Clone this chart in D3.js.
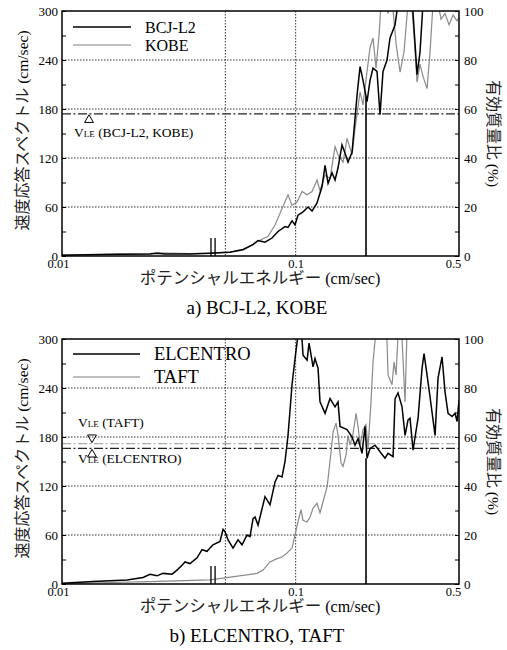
<!DOCTYPE html>
<html>
<head>
<meta charset="utf-8">
<script src="https://cdn.jsdelivr.net/npm/d3@7"></script>
<style>
body{margin:0;background:#fff;}
</style>
</head>
<body>
<div class="chart"></div>
<script>
// a) BCJ-L2 / KOBE  (potential energy cm/sec, velocity spectrum cm/sec)
const bcjX = [0.0100,0.01318,0.01771,0.02380,0.02551,0.02759,0.03531,0.04300,0.05237,0.05952,0.06569,0.06901,0.07393,0.07922,0.08404,0.09004,0.09275,0.09647,0.09936,0.1023,0.1075,0.1130,0.1175,0.1234,0.1297,0.1336,0.1376,0.1431,0.1474,0.1518,0.1579,0.1626,0.1675,0.1743,0.1831,0.1886,0.1942,0.2020,0.2081,0.2143,0.2229,0.2296,0.2365,0.2460,0.2534,0.2663,0.2742,0.2938,0.3148,0.3242,0.3307,0.3406,0.3508,0.3759,0.4148,0.5000];
const bcjY = [1,1.5,2,2.5,3.5,2.5,2.5,3.5,4.5,8,14,19,17,22,30,36,35,43,38,50,54,60,55,65,85,111,89,102,93,108,136,126,115,127,197,232,215,189,215,230,226,173,226,240,267,283,310,330,315,260,222,250,310,330,340,340];

const kobeX = [0.0100,0.01454,0.02380,0.02551,0.03531,0.04300,0.05237,0.05952,0.06833,0.07615,0.08160,0.08742,0.09275,0.09647,0.1013,0.1065,0.1119,0.1175,0.1234,0.1271,0.1336,0.1403,0.1474,0.1518,0.1595,0.1659,0.1743,0.1795,0.1886,0.1942,0.2020,0.2081,0.2143,0.2207,0.2274,0.2319,0.2389,0.2485,0.2585,0.2689,0.2797,0.2909,0.3026,0.3116,0.3211,0.3307,0.3406,0.3508,0.3649,0.3759,0.3872,0.4028,0.4190,0.4358,0.4533,0.4715,0.4905,0.5000];
const kobeY = [1.5,2,3,4,3,3.5,5,7,17.5,24,38,58,75,62,66,79,75,79,93,80,99,95,134,124,115,144,124,156,201,185,226,255,267,230,270,310,320,297,315,260,225,250,310,320,270,213,235,220,205,250,310,315,290,297,283,295,288,292];

// b) ELCENTRO / TAFT
const elcX = [0.0100,0.01357,0.01897,0.02222,0.02380,0.02551,0.02706,0.02957,0.03106,0.03263,0.03361,0.03531,0.03783,0.03974,0.04175,0.04428,0.04745,0.04888,0.04985,0.05135,0.05394,0.05666,0.05894,0.06192,0.06377,0.06569,0.06700,0.06901,0.07393,0.07767,0.08160,0.08404,0.08742,0.09004,0.09275,0.09647,0.09936,0.1023,0.1054,0.1075,0.1119,0.1141,0.1187,0.1210,0.1247,0.1271,0.1336,0.1403,0.1474,0.1518,0.1548,0.1659,0.1743,0.1795,0.1849,0.1923,0.1981,0.2020,0.2081,0.2186,0.2296,0.2412,0.2485,0.2611,0.2663,0.2742,0.2852,0.2938,0.3026,0.3086,0.3179,0.3340,0.3474,0.3543,0.3649,0.3759,0.3949,0.4067,0.4231,0.4358,0.4489,0.4669,0.4809,0.4905,0.5000];
const elcY = [1,3,5,8,12,10,13,12,17,23,27,25,32,42,40,48,52,67,64,54,44,54,48,60,58,80,82,72,107,97,125,133,131,150,182,244,276,305,320,280,274,295,266,276,264,223,209,227,217,223,193,189,180,170,178,160,193,154,166,170,162,154,160,156,227,234,217,182,201,203,164,203,264,282,256,229,182,252,278,235,209,205,209,199,225];

const taftX = [0.0100,0.01454,0.02380,0.04300,0.06833,0.07249,0.07767,0.08322,0.08742,0.09184,0.09647,0.09936,0.1023,0.1054,0.1075,0.1119,0.1152,0.1187,0.1234,0.1271,0.1310,0.1363,0.1376,0.1417,0.1445,0.1489,0.1518,0.1564,0.1595,0.1643,0.1675,0.1709,0.1760,0.1813,0.1849,0.1886,0.1942,0.2000,0.2040,0.2101,0.2143,0.2207,0.2296,0.2412,0.2460,0.2485,0.2585,0.2636,0.2689,0.2742,0.2852,0.2938,0.2996,0.3148,0.5000];
const taftY = [0.5,1.5,3,5,13,17,27,31,33,38,44,60,76,91,78,76,82,93,99,87,101,119,129,162,186,197,182,148,144,158,182,170,184,209,193,170,189,195,166,223,272,310,330,320,297,256,244,272,256,305,300,223,310,340,340];

// V_LE levels (cm/sec) and marker lines
const vleA = [174];
const vleB = [172, 166];            // TAFT, ELCENTRO
const markX = [0.0434, 0.0452];     // double marks near axis
const markH = 22;
const cutX = 0.2;                   // solid vertical line
const cutTop = [195, 154];

const xTicks = [0.01, 0.1, 0.5];
const xGrid = [0.05, 0.1];
const yGrid = [60, 120, 180, 240];

const SERIF = 'Liberation Serif, DejaVu Serif, serif';
const JP = 'Noto Sans CJK JP, sans-serif';

const width = 507, height = 650;
const svg = d3.select('.chart').append('svg')
    .attr('width', width).attr('height', height)
    .attr('font-family', SERIF);

const x = d3.scaleLog().domain([0.01, 0.5]).range([62, 459]);

const panels = [
  {top: 11, bottom: 256, series: [[kobeX, kobeY, '#8a8a8a', 1.2], [bcjX, bcjY, '#000', 1.5]],
   legend: [['BCJ-L2', '#000'], ['KOBE', '#aaa']], legendFont: 16, legendY: 27, legendStep: 18, legendLen: 58,
   caption: 'a) BCJ-L2, KOBE'},
  {top: 339, bottom: 584, series: [[taftX, taftY, '#8a8a8a', 1.2], [elcX, elcY, '#000', 1.5]],
   legend: [['ELCENTRO', '#000'], ['TAFT', '#aaa']], legendFont: 18.5, legendY: 354, legendStep: 23, legendLen: 67,
   caption: 'b) ELCENTRO, TAFT'}
];

panels.forEach(function(p, pi){
    const y = d3.scaleLinear().domain([0, 300]).range([p.bottom, p.top]);
    const yr = d3.scaleLinear().domain([0, 100]).range([p.bottom, p.top]);
    const g = svg.append('g');

    g.append('clipPath').attr('id', 'clip' + pi)
        .append('rect')
        .attr('x', x(0.01)).attr('y', p.top)
        .attr('width', x(0.5) - x(0.01)).attr('height', p.bottom - p.top);

    // dotted grid
    g.selectAll('.hg').data(yGrid).enter().append('line')
        .attr('x1', x(0.01)).attr('x2', x(0.5))
        .attr('y1', d => y(d)).attr('y2', d => y(d))
        .attr('stroke', '#000').attr('stroke-width', 0.8).attr('stroke-dasharray', '1.5,1.5');
    g.selectAll('.vg').data(xGrid).enter().append('line')
        .attr('x1', d => x(d)).attr('x2', d => x(d))
        .attr('y1', p.top).attr('y2', p.bottom)
        .attr('stroke', '#000').attr('stroke-width', 0.8).attr('stroke-dasharray', '1.5,1.5');

    // V_LE dash-dot lines
    const vle = pi === 0 ? vleA : vleB;
    g.selectAll('.vle').data(vle).enter().append('line')
        .attr('x1', x(0.01)).attr('x2', x(0.5))
        .attr('y1', d => y(d)).attr('y2', d => y(d))
        .attr('stroke', (d, i) => (pi === 1 && i === 0) ? '#aaa' : '#222')
        .attr('stroke-width', 1.3)
        .attr('stroke-dasharray', '9,2.5,2,2.5');

    // curves
    const line = d3.line().x(d => x(d[0])).y(d => y(d[1]));
    p.series.forEach(function(s){
        const pts = s[0].map((v, i) => [v, s[1][i]]);
        g.append('path').datum(pts)
            .attr('d', line)
            .attr('fill', 'none')
            .attr('stroke', s[2])
            .attr('stroke-width', s[3])
            .attr('clip-path', 'url(#clip' + pi + ')');
    });

    // vertical solid line and double marks
    g.append('line')
        .attr('x1', x(cutX)).attr('x2', x(cutX))
        .attr('y1', y(0)).attr('y2', y(cutTop[pi]))
        .attr('stroke', '#000').attr('stroke-width', 1.6);
    g.selectAll('.mk').data(markX).enter().append('line')
        .attr('x1', d => x(d)).attr('x2', d => x(d))
        .attr('y1', y(0)).attr('y2', y(markH))
        .attr('stroke', '#000').attr('stroke-width', 1.3);

    // frame
    g.append('rect')
        .attr('x', x(0.01)).attr('y', p.top)
        .attr('width', x(0.5) - x(0.01)).attr('height', p.bottom - p.top)
        .attr('fill', 'none').attr('stroke', '#000').attr('stroke-width', 1.5);

    // axes
    const left = g.append('g').attr('transform', 'translate(' + x(0.01) + ',0)')
        .call(d3.axisLeft(y).tickValues(d3.range(0, 301, 30)).tickSize(-4).tickPadding(4)
            .tickFormat(d => d % 60 === 0 ? d : ''));
    const right = g.append('g').attr('transform', 'translate(' + x(0.5) + ',0)')
        .call(d3.axisRight(yr).tickValues(d3.range(0, 101, 10)).tickSize(-4).tickPadding(5)
            .tickFormat(d => d % 20 === 0 ? d : ''));
    const bottom = g.append('g').attr('transform', 'translate(0,' + p.bottom + ')')
        .call(d3.axisBottom(x).tickValues(xTicks).tickSize(0).tickPadding(3)
            .tickFormat(d3.format('')));
    [left, right, bottom].forEach(a => {
        a.attr('font-family', SERIF).attr('font-size', 13);
        a.select('.domain').remove();
        a.selectAll('text').attr('fill', '#000');
        a.selectAll('line').attr('stroke', '#000');
    });
    bottom.attr('font-size', 12.5);
    bottom.selectAll('text')
        .attr('dx', d => d === 0.01 ? -4 : (d === 0.5 ? -6 : 0));

    // legend
    p.legend.forEach(function(l, i){
        const ly = p.legendY + i * p.legendStep;
        g.append('line').attr('x1', 73).attr('x2', 73 + p.legendLen)
            .attr('y1', ly).attr('y2', ly)
            .attr('stroke', l[1]).attr('stroke-width', 1.5);
        g.append('text').attr('x', 73 + p.legendLen + 14).attr('y', ly + 6)
            .attr('font-family', SERIF)
            .attr('font-size', p.legendFont).text(l[0]);
    });

    // V_LE markers
    const tri = d3.symbol().type(d3.symbolTriangle).size(34);
    function vleLabel(tx, ty, name){
        const t = g.append('text').attr('x', tx).attr('y', ty)
            .attr('font-family', SERIF).attr('font-size', 13.5);
        t.append('tspan').text('V');
        t.append('tspan').attr('font-size', 9).text('LE');
        t.append('tspan').text(' (' + name + ')');
    }
    if (pi === 0) {
        g.append('path').attr('d', tri)
            .attr('transform', 'translate(' + x(0.01305) + ',' + (y(vleA[0]) + 6) + ')')
            .attr('fill', 'none').attr('stroke', '#000');
        vleLabel(74, y(vleA[0]) + 23, 'BCJ-L2, KOBE');
    } else {
        g.append('path').attr('d', tri)
            .attr('transform', 'translate(' + x(0.01344) + ',' + (y(vleB[0]) - 6) + ') rotate(180)')
            .attr('fill', 'none').attr('stroke', '#000');
        g.append('path').attr('d', tri)
            .attr('transform', 'translate(' + x(0.01344) + ',' + (y(vleB[1]) + 6) + ')')
            .attr('fill', 'none').attr('stroke', '#000');
        vleLabel(78, y(vleB[0]) - 17, 'TAFT');
        vleLabel(78, y(vleB[1]) + 15, 'ELCENTRO');
    }

    // axis titles
    const mid = (p.top + p.bottom) / 2;
    const lt = g.append('text').attr('text-anchor', 'middle')
        .attr('transform', 'translate(28,' + (mid - 3) + ') rotate(-90)');
    lt.append('tspan').attr('font-family', JP).attr('font-size', 16).attr('fill', '#222').text('速度応答スペクトル');
    lt.append('tspan').attr('font-family', SERIF).attr('font-size', 15.5).text('  (cm/sec)');

    const rt = g.append('text').attr('text-anchor', 'middle')
        .attr('transform', 'translate(488,' + mid + ') rotate(90)');
    rt.append('tspan').attr('font-family', JP).attr('font-size', 16).attr('fill', '#222').text('有効質量比');
    rt.append('tspan').attr('font-family', SERIF).attr('font-size', 15.5).text('  (%)');

    const bt = g.append('text').attr('text-anchor', 'middle')
        .attr('x', 260).attr('y', p.bottom + 28);
    bt.append('tspan').attr('font-family', JP).attr('font-size', 16.5).attr('fill', '#222').text('ポテンシャルエネルギー');
    bt.append('tspan').attr('font-family', SERIF).attr('font-size', 16).text('  (cm/sec)');

    g.append('text').attr('text-anchor', 'middle')
        .attr('x', 257).attr('y', p.bottom + 58)
        .attr('font-family', SERIF)
        .attr('font-size', 19).text(p.caption);
});
</script>
</body>
</html>
